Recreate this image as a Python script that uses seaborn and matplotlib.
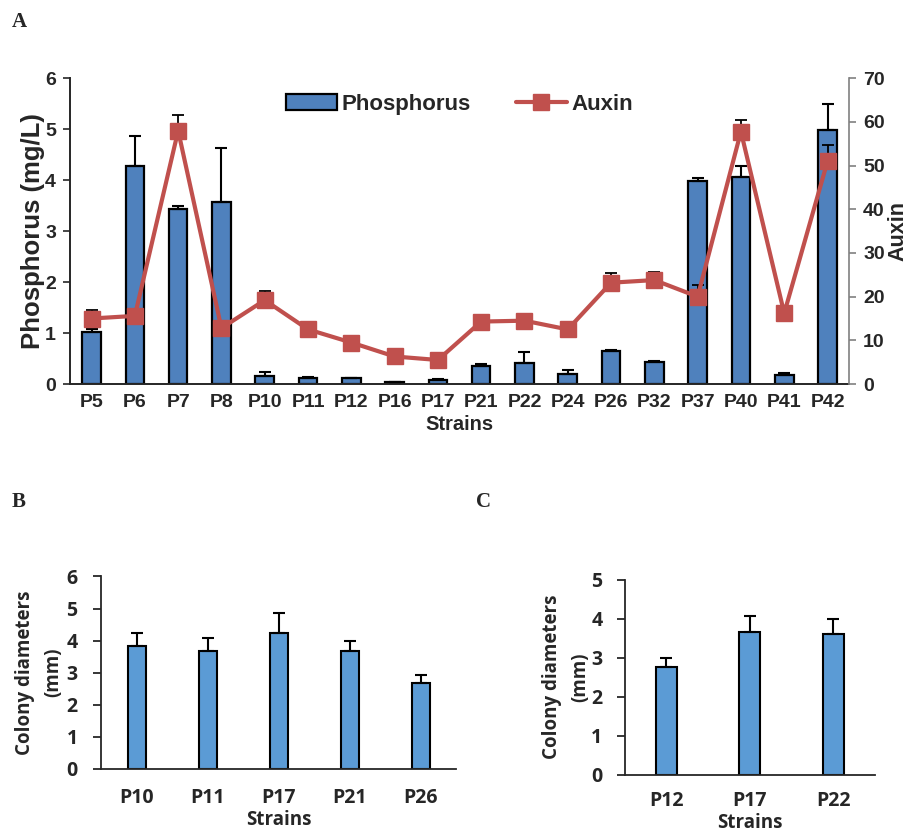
import numpy as np
import pandas as pd
import seaborn as sns
import matplotlib.pyplot as plt
from matplotlib.patches import Patch
from matplotlib.lines import Line2D

# panel A data
strains_a = ['P5', 'P6', 'P7', 'P8', 'P10', 'P11', 'P12', 'P16', 'P17', 'P21', 'P22',
             'P24', 'P26', 'P32', 'P37', 'P40', 'P41', 'P42']
phosphorus = [1.03, 4.27, 3.44, 3.57, 0.15, 0.12, 0.11, 0.03, 0.07, 0.36, 0.42,
              0.20, 0.64, 0.43, 3.98, 4.07, 0.18, 4.98]
phos_err = [0.04, 0.59, 0.05, 1.07, 0.08, 0.01, 0.01, 0.01, 0.02, 0.04, 0.20,
            0.07, 0.03, 0.03, 0.07, 0.21, 0.03, 0.51]
auxin = [15.0, 15.6, 58.0, 12.8, 19.2, 12.5, 9.5, 6.3, 5.5, 14.3, 14.5,
         12.5, 23.2, 23.8, 20.0, 57.8, 16.2, 51.0]
auxin_err = [2.0, 0.3, 3.6, 0.3, 2.2, 0.3, 0.3, 0.3, 0.3, 0.6, 0.3,
             0.3, 2.2, 1.9, 2.6, 2.6, 1.5, 3.7]

# panel B data
strains_b = ['P10', 'P11', 'P17', 'P21', 'P26']
diam_b = [3.82, 3.66, 4.24, 3.66, 2.67]
diam_b_err = [0.41, 0.42, 0.62, 0.33, 0.26]

# panel C data
strains_c = ['P12', 'P17', 'P22']
diam_c = [2.75, 3.67, 3.60]
diam_c_err = [0.24, 0.41, 0.40]

sns.set_style('white')
plt.rcParams['font.family'] = ['Liberation Sans', 'DejaVu Sans']
plt.rcParams['font.weight'] = 'bold'

bar_blue = '#4F81BD'
line_red = '#C0504D'
bar_light = '#5B9BD5'

fig = plt.figure(figsize=(9.2, 8.33), dpi=100)

# ---------- panel A ----------
ax = fig.add_axes([0.076, 0.539, 0.847, 0.367])
sns.barplot(x=strains_a, y=phosphorus, color=bar_blue, saturation=1, width=0.43,
            edgecolor='black', linewidth=1.6, errorbar=None, ax=ax, zorder=2)
xs = np.arange(len(strains_a))
ax.errorbar(xs, phosphorus, yerr=[np.zeros(len(xs)), phos_err], fmt='none',
            ecolor='black', elinewidth=1.5, capsize=4, capthick=1.5, zorder=3)
ax.set_ylim(0, 6)
ax.set_xlim(-0.5, len(xs) - 0.5)
ax.set_yticks(range(0, 7))
ax.set_ylabel('Phosphorus (mg/L)', fontsize=18.5, fontweight='bold', labelpad=0)
ax.set_xlabel('Strains', fontsize=14.5, fontweight='bold', labelpad=3)
ax.tick_params(axis='y', direction='out', length=5, width=1.2, labelsize=14, left=True, pad=5)
ax.tick_params(axis='x', length=0, labelsize=14, pad=7)
for lab in ax.get_xticklabels() + ax.get_yticklabels():
    lab.set_fontweight('bold')
ax.spines['top'].set_visible(False)
ax.spines['left'].set_linewidth(1.4)
ax.spines['bottom'].set_linewidth(1.4)
ax.spines['right'].set_visible(False)

ax2 = ax.twinx()
ax2.errorbar(xs, auxin, yerr=[np.zeros(len(xs)), auxin_err], fmt='none',
             ecolor='black', elinewidth=1.3, capsize=4, capthick=1.3, zorder=3)
ax2.plot(xs, auxin, color=line_red, lw=3, marker='s', markersize=12, zorder=4)
ax2.set_ylim(0, 70)
ax2.set_yticks(range(0, 71, 10))
ax2.set_ylabel('Auxin', fontsize=15.5, fontweight='bold', labelpad=2)
ax2.tick_params(axis='y', direction='out', length=5, width=1.2, labelsize=14, right=True,
                color='#808080', pad=5)
for lab in ax2.get_yticklabels():
    lab.set_fontweight('bold')
for s in ['top', 'left', 'bottom']:
    ax2.spines[s].set_visible(False)
ax2.spines['right'].set_color('#808080')
ax2.spines['right'].set_linewidth(1.2)

handles = [Patch(facecolor=bar_blue, edgecolor='black', linewidth=1.6),
           Line2D([0], [0], color=line_red, lw=3, marker='s', markersize=12)]
ax2.legend(handles, ['Phosphorus', 'Auxin'], loc='upper center', bbox_to_anchor=(0.5, 1.015),
           ncol=2, frameon=False, prop={'size': 16, 'weight': 'bold'},
           handlelength=2.3, columnspacing=2.0, handletextpad=0.2)

# ---------- panels B and C ----------
def colony_panel(rect, strains, vals, errs, top, ypad, xpad, lpad):
    axp = fig.add_axes(rect)
    sns.barplot(x=strains, y=vals, color=bar_light, saturation=1, width=0.25,
                edgecolor='black', linewidth=1.5, errorbar=None, ax=axp, zorder=2)
    pos = np.arange(len(strains))
    axp.errorbar(pos, vals, yerr=[np.zeros(len(pos)), errs], fmt='none',
                 ecolor='black', elinewidth=1.5, capsize=4, capthick=1.5, zorder=3)
    axp.set_ylim(0, top)
    axp.set_xlim(-0.5, len(pos) - 0.5)
    axp.set_yticks(range(0, top + 1))
    axp.set_ylabel('Colony diameters\n(mm)', fontsize=13.5, fontweight='bold',
                   family=['Open Sans', 'DejaVu Sans'], labelpad=lpad, linespacing=1.55)
    axp.set_xlabel('Strains', fontsize=13.5, fontweight='bold',
                   family=['Open Sans', 'DejaVu Sans'], labelpad=1.5)
    axp.tick_params(axis='y', direction='out', length=6, width=1.3, labelsize=14,
                    left=True, pad=ypad)
    axp.tick_params(axis='x', length=0, labelsize=14, pad=xpad)
    for lab in axp.get_xticklabels() + axp.get_yticklabels():
        lab.set_fontweight('bold')
        lab.set_family(['Open Sans', 'DejaVu Sans'])
    axp.spines['top'].set_visible(False)
    axp.spines['right'].set_visible(False)
    axp.spines['left'].set_linewidth(1.3)
    axp.spines['bottom'].set_linewidth(1.3)
    return axp

axb = colony_panel([0.110, 0.077, 0.386, 0.231], strains_b, diam_b, diam_b_err, 6, 11, 14, 2)
axc = colony_panel([0.679, 0.070, 0.272, 0.234], strains_c, diam_c, diam_c_err, 5, 10, 12, 0.5)

# panel letters
for txt, x, y in [('A', 12, 22), ('B', 12, 502), ('C', 476, 502)]:
    fig.text(x / 920, 1 - y / 833, txt, fontsize=15, fontweight='bold',
             family=['Liberation Serif', 'DejaVu Serif'], va='center', ha='left')

fig.savefig('out.png', dpi=100)
